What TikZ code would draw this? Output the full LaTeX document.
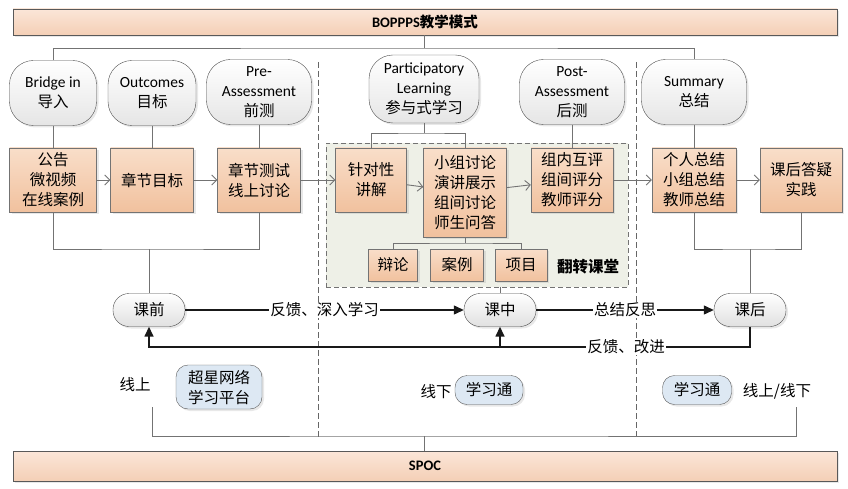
\documentclass[tikz,border=0pt]{standalone}
\usepackage{fontspec}
\setmainfont{Carlito}
\newfontfamily\cjk{Noto Sans CJK SC}
\newfontfamily\en{Carlito}
\usepackage{tikz}
\usetikzlibrary{positioning,arrows.meta,shadows}

\definecolor{peachtop}{HTML}{F9DEC9}
\definecolor{peachbot}{HTML}{F1C19E}
\definecolor{bartop}{HTML}{FBE6D8}
\definecolor{barbot}{HTML}{F4CFB6}
\definecolor{flipfill}{HTML}{EEF0E7}
\definecolor{toolblue}{HTML}{DDE8F3}

\begin{document}
\begin{tikzpicture}[x=1pt,y=-1pt,
	every node/.style={font=\cjk\fontsize{15.5}{20}\selectfont,align=center,inner sep=1pt},
	shade/.style={drop shadow={opacity=0.18,shadow xshift=2pt,shadow yshift=-2pt}},
	bar/.style={draw=black!65,top color=bartop,bottom color=barbot,minimum width=824pt,shade},
	bubble/.style={draw=black!70,rounded corners=24pt,top color=white,bottom color=black!10,minimum height=65pt,shade},
	box/.style={draw=black!55,top color=peachtop,bottom color=peachbot,minimum height=64pt,shade},
	pill/.style={draw=black!70,rounded corners=16pt,top color=white,bottom color=black!12,minimum width=72pt,minimum height=33pt,shade},
	tool/.style={draw=black!65,fill=toolblue,rounded corners=12pt,minimum height=29pt,shade},
	link/.style={draw=black!55,line width=0.9pt},
	flow/.style={link,-{Straight Barb[length=5pt,width=10pt]}},
	fb/.style={draw=black!90,line width=1.2pt,-{Triangle[length=10pt,width=9pt]}},
	sep/.style={draw=black!60,dash pattern=on 6pt off 3pt,line width=0.8pt},
	lbl/.style={fill=white,inner sep=1pt}]

	\useasboundingbox (0,0) rectangle (848,489);

	\draw[sep] (318,62) -- (318,437);
	\draw[sep] (636,62) -- (636,437);

	\node[bar,minimum height=26pt] (top) at (425,22) {\en\bfseries\fontsize{14.5}{16}\selectfont BOPPPS{\cjk 教学模式}};
	\node[bar,minimum height=30pt] (bot) at (425,466) {\en\bfseries\fontsize{14.5}{16}\selectfont SPOC};

	\node[bubble,minimum width=87pt] (b1) at (53,93) {{\en Bridge in}\\导入};
	\node[bubble,minimum width=88pt] (b2) at (152,93) {{\en Outcomes}\\目标};
	\node[bubble,minimum width=105pt] (b3) at (259,92) {{\en Pre-}\\{\en Assessment}\\前测};
	\node[bubble,minimum width=110pt,minimum height=68pt] (b4) at (424,89) {{\en Participatory}\\{\en Learning}\\参与式学习};
	\node[bubble,minimum width=105pt] (b5) at (572,92) {{\en Post-}\\{\en Assessment}\\后测};
	\node[bubble,minimum width=105pt] (b6) at (694,92) {{\en Summary}\\总结};

	\node[draw=black!55,dash pattern=on 5pt off 3pt,line width=0.9pt,fill=flipfill,minimum width=302pt,minimum height=144pt] (flip) at (477,215) {};
	\node[font=\cjk\bfseries\fontsize{15.5}{20}\selectfont] (fliplbl) at (588,267) {翻转课堂};

	\node[box,minimum width=87pt] (k1) at (53,180) {公告\\微视频\\在线案例};
	\node[box,minimum width=83pt] (k2) at (152,180) {章节目标};
	\node[box,minimum width=83pt] (k3) at (259,180) {章节测试\\线上讨论};
	\node[box,minimum width=71pt] (k4) at (371,180) {针对性\\讲解};
	\node[box,minimum width=83pt,minimum height=89pt] (k5) at (465,192.5) {小组讨论\\演讲展示\\组间讨论\\师生问答};
	\node[box,minimum width=82pt] (k6) at (572,180) {组内互评\\组间评分\\教师评分};
	\node[box,minimum width=84pt] (k7) at (694,180) {个人总结\\小组总结\\教师总结};
	\node[box,minimum width=82pt] (k8) at (801,180) {课后答疑\\实践};

	\node[box,minimum width=49pt,minimum height=32pt] (s1) at (393,265) {辩论};
	\node[box,minimum width=53pt,minimum height=32pt] (s2) at (457,265) {案例};
	\node[box,minimum width=52pt,minimum height=32pt] (s3) at (521,265) {项目};

	\node[pill] (m1) at (149,310) {课前};
	\node[pill] (m2) at (500,310) {课中};
	\node[pill] (m3) at (750,310) {课后};

	\node (t1) at (135,385) {线上};
	\node[tool,minimum width=86pt,minimum height=44pt] (p1) at (219,387) {超星网络\\学习平台};
	\node (t2) at (436,392) {线下};
	\node[tool,minimum width=68pt] (p2) at (489,390) {学习通};
	\node[tool,minimum width=69pt] (p3) at (697,390) {学习通};
	\node (t3) at (777,391) {线上/线下};

	\coordinate (tj) at (424,48);
	\coordinate (pj) at (424,133);
	\coordinate (sj) at (465,243);
	\coordinate (lj) at (149,249);
	\coordinate (rj) at (750,249);
	\coordinate (fj) at (149,347);
	\coordinate (bj) at (424,436);
	\coordinate (bl) at (152,407);
	\coordinate (br) at (796,407);

	\draw[link] (top.south -| tj) -- (tj);
	\draw[link] (b1.north) |- (tj) -| (b6.north);
	\draw[link] (b1) -- (k1);
	\draw[link] (b2) -- (k2);
	\draw[link] (b3) -- (k3);
	\draw[link] (b4) -- (pj);
	\draw[link] (k4.north) |- (pj) -| (k5.north);
	\draw[link] (b5) -- (k6);
	\draw[link] (b6) -- (k7);

	\draw[flow] (k1) -- (k2);
	\draw[flow] (k2) -- (k3);
	\draw[flow] (k3) -- (k4);
	\draw[flow] (k4) -- (k5);
	\draw[flow] (k5) -- (k6);
	\draw[flow] (k6) -- (k7);
	\draw[flow] (k7) -- (k8);

	\draw[link] (k5) -- (sj);
	\draw[link] (s1.north) |- (sj) -| (s3.north);

	\draw[link] (k1.south) |- (lj) -| (k3.south);
	\draw[link] (lj) -- (m1);
	\draw[link] (k7.south) |- (rj) -| (k8.south);
	\draw[link] (rj) -- (m3);
	\draw[link] (flip.south -| m2) -- (m2);

	\draw[fb] (m1) -- node[lbl] (l1) {反馈、深入学习} (m2);
	\draw[fb] (m2) -- node[lbl] (l2) {总结反思} (m3);
	\draw[fb,line width=1.5pt] (m3.south) |- (fj) -- (m1.south);
	\draw[fb,line width=1.5pt] (fj -| m2) -- (m2.south);
	\node[lbl] (l3) at (626,347) {反馈、改进};

	\draw[link] (bl) |- (bj) -| (br);
	\draw[link] (bj) -- (bot.north -| bj);

\end{tikzpicture}
\end{document}
